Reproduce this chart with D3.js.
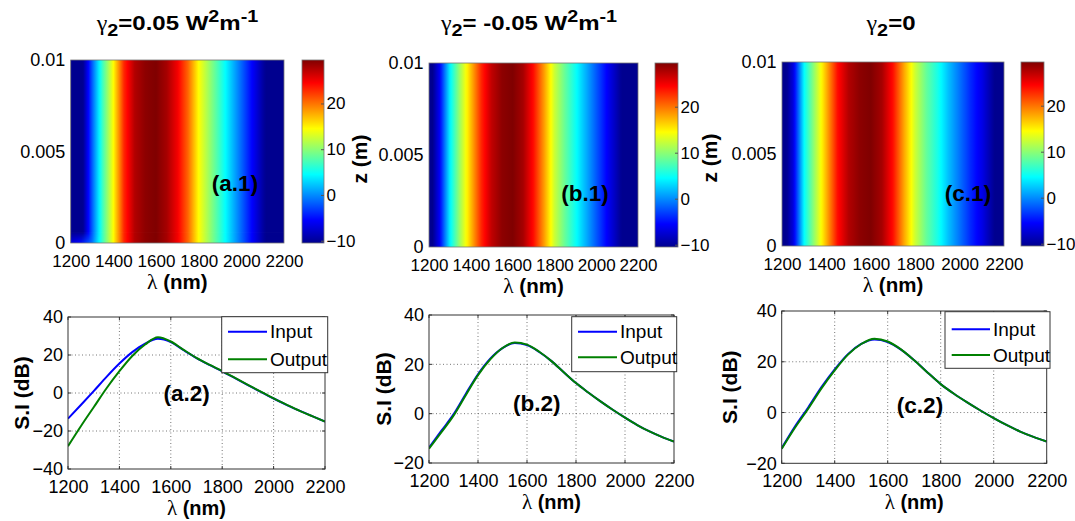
<!DOCTYPE html>
<html><head><meta charset="utf-8">
<script src="https://cdn.jsdelivr.net/npm/d3@7"></script>
<style>
body{margin:0;background:#fff;}
svg text{font-family:"Liberation Sans",Arial,sans-serif;fill:#000;}
</style></head><body>
<svg id="chart" width="1075" height="521"></svg>
<script>
// ---------------- DATA ----------------
const lambda = [1200,1250,1300,1350,1400,1450,1500,1550,1600,1650,1700,1750,1800,1850,1900,1950,2000,2050,2100,2150,2200];
const lambdaTicks = [1200,1400,1600,1800,2000,2200];
const zTicks = [0,0.005,0.01];
const zTickLabels = ['0','0.005','0.01'];
const cbTicks = [-10,0,10,20];
const siTicksA = [-40,-20,0,20,40];
const siTicksBC = [-20,0,20,40];
const seriesNames = ['Input','Output'];

// S.I (dB) curves (bottom row)
const siInputA  = [-13.5,-6.3,1,8.5,15.5,21.5,26,28.5,26.8,22.5,18.4,14.8,11.4,7.8,4.2,0.6,-2.9,-6.2,-9.3,-12.2,-15];
const siOutputA = [-28,-17.5,-7.5,2.5,11.5,19.5,25.5,29.3,27.1,22.7,18.5,14.9,11.5,7.9,4.3,0.7,-2.8,-6.1,-9.3,-12.2,-15];
const siInputB  = [-13.8,-7,-0.3,8,16,22.3,26.6,28.6,27.8,25,21.3,16.8,12.4,8.6,5,1.6,-1.6,-4.6,-7.2,-9.4,-11.3];
const siOutputB = [-14.2,-7.6,-0.8,7.5,15.6,22,26.6,28.9,28,25.1,21.3,16.8,12.4,8.6,5,1.6,-1.6,-4.6,-7.2,-9.4,-11.3];
const siInputC  = [-14,-5.5,2,10,17,23,27,28.8,27.8,24.8,20.6,15.8,11.2,7.4,4,0.8,-2.2,-5,-7.5,-9.6,-11.4];
const siOutputC = [-14.3,-6,1.5,9.5,16.6,22.8,27,29.1,28,24.9,20.6,15.8,11.2,7.4,4,0.8,-2.2,-5,-7.5,-9.6,-11.4];

// Heat-map rows, value per wavelength
const mapA0 = [-7,-5,-1,7,14.5,23,27.5,29,29.5,28,25,20.5,14.5,10.5,6.5,2.5,-1.5,-5.5,-9.5,-13,-16]; // z = 0
const mapA  = [-16,-12,-2,7,14.5,23,27.5,29,29.5,28,25,20.5,14.5,10.5,6.5,2.5,-1.5,-5.5,-9.5,-13,-16];
const mapB  = [-13,-6,4,11,17,23,27,29,29.5,28,24,18.5,12.5,8.5,5,1.5,-2,-5.5,-9,-12.5,-15];
const mapC  = [-13,-7,4.5,11,17.5,24,27.5,29,29.5,28,24,18,12.5,8.5,5.5,2,-1,-4,-6.5,-10,-13];
const zRowsA = [0,0.0006,0.01];
const zRowsBC = [0,0.01];

// ---------------- SETUP ----------------
const svg = d3.select('#chart');
svg.append('rect').attr('width',1075).attr('height',521).attr('fill','#fff');
const defs = svg.append('defs');
const cbDomain = [-10.5,29.5];
const jetT = [0,0.125,0.375,0.625,0.875,1];
const jet = d3.scaleLinear()
  .domain(jetT.map(t=>cbDomain[0]+t*(cbDomain[1]-cbDomain[0])))
  .range(['#00008f','#0000ff','#00ffff','#ffff00','#ff0000','#800000'])
  .clamp(true);
let gid=0;
function hGrad(xs, vals){
  const id='hg'+(gid++);
  const g=defs.append('linearGradient').attr('id',id).attr('x1',0).attr('x2',1).attr('y1',0).attr('y2',0);
  const [a,b]=xs.range();
  for(let i=0;i<lambda.length;i++){
    const sub = i<lambda.length-1 ? 6 : 1;
    for(let k=0;k<sub;k++){
      const t=k/6;
      const l = i<lambda.length-1 ? lambda[i]+(lambda[i+1]-lambda[i])*t : lambda[i];
      const v = i<lambda.length-1 ? vals[i]+(vals[i+1]-vals[i])*t : vals[i];
      g.append('stop').attr('offset',(xs(l)-a)/(b-a)).attr('stop-color',jet(v));
    }
  }
  return id;
}
defs.append('linearGradient').attr('id','fade').attr('x1',0).attr('x2',0).attr('y1',1).attr('y2',0)
  .call(g=>{g.append('stop').attr('offset',0).attr('stop-color','#fff').attr('stop-opacity',1);
            g.append('stop').attr('offset',1).attr('stop-color','#fff').attr('stop-opacity',0);});

const SERIF='"Liberation Serif","DejaVu Serif",serif';
function lambdaLabel(g, x, y, size){
  const t=g.append('text').attr('x',x).attr('y',y).attr('text-anchor','middle').attr('font-size',size);
  t.append('tspan').attr('font-family',SERIF).attr('font-size',size*1.05).text('λ');
  t.append('tspan').attr('font-weight','bold').text(' (nm)');
}
function styleAxis(g,size){
  g.attr('font-family',null).attr('font-size',null);
  g.select('.domain').remove();
  g.selectAll('text').attr('font-size',size).style('font-family','"Liberation Sans",Arial,sans-serif');
}

// ---------------- TOP HEAT MAPS ----------------
const topPanels = [
  {x0:70.7,x1:284,y0:60,y1:243,cb:[302,324],zRows:zRowsA,rows:[mapA0,mapA,mapA],
   title:[['γ','sym'],['2','sub'],['=0.05 W',''],['2','sup'],['m',''],['-1','sup']],titleX:177.5,
   tag:'(a.1)',tagX:235,tagY:183,zLabelX:null},
  {x0:429,x1:638,y0:63,y1:247,cb:[655,678],zRows:zRowsBC,rows:[mapB,mapB],
   title:[['γ','sym'],['2','sub'],['= -0.05 W',''],['2','sup'],['m',''],['-1','sup']],titleX:529,
   tag:'(b.1)',tagX:585,tagY:193,zLabelX:360},
  {x0:782,x1:1004,y0:62,y1:246,cb:[1021,1044],zRows:zRowsBC,rows:[mapC,mapC],
   title:[['γ','sym'],['2','sub'],['=0','']],titleX:891,
   tag:'(c.1)',tagX:968,tagY:193,zLabelX:710}
];

topPanels.forEach((p,pi)=>{
  const g=svg.append('g');
  const xs=d3.scaleLinear().domain([1200,2200]).range([p.x0,p.x1]);
  const zs=d3.scaleLinear().domain([0,0.01]).range([p.y1,p.y0]);
  const ids=p.rows.map(r=>hGrad(xs,r));
  for(let i=0;i<p.zRows.length-1;i++){
    const ya=zs(p.zRows[i+1]), yb=zs(p.zRows[i]);
    g.append('rect').attr('x',p.x0).attr('y',ya).attr('width',p.x1-p.x0).attr('height',yb-ya)
      .attr('fill',`url(#${ids[i+1]})`);
    if(p.rows[i]!==p.rows[i+1]){
      const mid='m'+pi+'_'+i;
      defs.append('mask').attr('id',mid).append('rect')
        .attr('x',p.x0).attr('y',ya).attr('width',p.x1-p.x0).attr('height',yb-ya).attr('fill','url(#fade)');
      g.append('rect').attr('x',p.x0).attr('y',ya).attr('width',p.x1-p.x0).attr('height',yb-ya)
        .attr('fill',`url(#${ids[i]})`).attr('mask',`url(#${mid})`);
    }
  }
  g.append('rect').attr('x',p.x0).attr('y',p.y0).attr('width',p.x1-p.x0).attr('height',p.y1-p.y0)
    .attr('fill','none').attr('stroke','#777').attr('stroke-width',0.8);

  const ax=g.append('g').attr('transform',`translate(0,${p.y1})`)
    .call(d3.axisBottom(xs).tickValues(lambdaTicks).tickSize(0).tickPadding(12).tickFormat(d3.format('d')));
  styleAxis(ax,17);
  const ay=g.append('g').attr('transform',`translate(${p.x0},0)`)
    .call(d3.axisLeft(zs).tickValues(zTicks).tickSize(0).tickPadding(5.5).tickFormat((d,i)=>zTickLabels[i]));
  styleAxis(ay,18);

  lambdaLabel(g,(p.x0+p.x1)/2,p.y1+46,20.5);
  if(p.zLabelX!==null){
    g.append('text').attr('transform',`translate(${p.zLabelX},${(p.y0+p.y1)/2+4}) rotate(-90)`)
      .attr('text-anchor','middle').attr('dy','0.35em').attr('font-size',21).attr('font-weight','bold').text('z (m)');
  }
  g.append('text').attr('x',p.tagX).attr('y',p.tagY).attr('dy','0.35em').attr('text-anchor','middle')
    .attr('font-size',22.5).attr('font-weight','bold').text(p.tag);

  const t=g.append('text').attr('transform',`translate(${p.titleX},30) scale(1.2,1)`)
    .attr('text-anchor','middle').attr('font-size',20).attr('font-weight','bold');
  let shift=0;
  p.title.forEach(([s,k])=>{
    const ts=t.append('tspan').text(s);
    let target=0;
    if(k==='sym'){ts.attr('font-family',SERIF).attr('font-weight','normal').attr('font-size',20);}
    if(k==='sub'){target=6;ts.attr('font-size',16.5);}
    if(k==='sup'){target=-8;ts.attr('font-size',16.5);}
    ts.attr('dy',target-shift); shift=target;
  });

  const cs=d3.scaleLinear().domain(cbDomain).range([p.y1,p.y0]);
  const cid='cb'+pi;
  const cg=defs.append('linearGradient').attr('id',cid).attr('x1',0).attr('x2',0).attr('y1',1).attr('y2',0);
  jetT.forEach(tt=>cg.append('stop').attr('offset',tt).attr('stop-color',jet(cbDomain[0]+tt*(cbDomain[1]-cbDomain[0]))));
  g.append('rect').attr('x',p.cb[0]).attr('y',p.y0).attr('width',p.cb[1]-p.cb[0]).attr('height',p.y1-p.y0)
    .attr('fill',`url(#${cid})`).attr('stroke','#777').attr('stroke-width',0.8);
  const cax=g.append('g').attr('transform',`translate(${p.cb[1]},0)`)
    .call(d3.axisRight(cs).tickValues(cbTicks).tickSizeInner(-3).tickSizeOuter(0).tickPadding(2.5).tickFormat(d3.format('d')));
  styleAxis(cax,17);
  cax.selectAll('line').attr('stroke','#555');
});

// ---------------- BOTTOM LINE PLOTS ----------------
const botPanels = [
  {x0:68,x1:325,y0:317,y1:469,yDomain:[-40,40],yTicks:siTicksA,inp:siInputA,out:siOutputA,
   leg:{x0:221.7,x1:327.7,y0:316.7,y1:372.7,lx:[228,267],iy:331.7,oy:359.3},
   tag:'(a.2)',tagX:186.7,tagY:393.3,yLabelX:22,xLabelOff:46},
  {x0:429,x1:674,y0:315,y1:463,yDomain:[-20,40],yTicks:siTicksBC,inp:siInputB,out:siOutputB,
   leg:{x0:571.7,x1:676.7,y0:316.7,y1:371.7,lx:[578,617],iy:331.7,oy:357.3},
   tag:'(b.2)',tagX:536.7,tagY:403.3,yLabelX:384,xLabelOff:46},
  {x0:781.7,x1:1046.7,y0:311,y1:463.3,yDomain:[-20,40],yTicks:siTicksBC,inp:siInputC,out:siOutputC,
   leg:{x0:945,x1:1050,y0:311.7,y1:368.3,lx:[951.7,990],iy:329.3,oy:355},
   tag:'(c.2)',tagX:920,tagY:405,yLabelX:730,xLabelOff:46}
];
const lineColors=['#0000ff','#008000'];

botPanels.forEach((p,pi)=>{
  const g=svg.append('g');
  const xs=d3.scaleLinear().domain([1200,2200]).range([p.x0,p.x1]);
  const ys=d3.scaleLinear().domain(p.yDomain).range([p.y1,p.y0]);
  g.append('rect').attr('x',p.x0).attr('y',p.y0).attr('width',p.x1-p.x0).attr('height',p.y1-p.y0).attr('fill','#fff');
  g.selectAll('.gx').data(lambdaTicks.slice(1,-1)).join('line')
    .attr('x1',d=>xs(d)).attr('x2',d=>xs(d)).attr('y1',p.y0).attr('y2',p.y1)
    .attr('stroke','#666').attr('stroke-width',0.9).attr('stroke-dasharray','1,2.5');
  g.selectAll('.gy').data(p.yTicks.slice(1,-1)).join('line')
    .attr('y1',d=>ys(d)).attr('y2',d=>ys(d)).attr('x1',p.x0).attr('x2',p.x1)
    .attr('stroke','#666').attr('stroke-width',0.9).attr('stroke-dasharray','1,2.5');
  lambdaTicks.forEach(d=>{
    g.append('line').attr('x1',xs(d)).attr('x2',xs(d)).attr('y1',p.y1).attr('y2',p.y1-3).attr('stroke','#333');
    g.append('line').attr('x1',xs(d)).attr('x2',xs(d)).attr('y1',p.y0).attr('y2',p.y0+3).attr('stroke','#333');
  });
  p.yTicks.forEach(d=>{
    g.append('line').attr('y1',ys(d)).attr('y2',ys(d)).attr('x1',p.x0).attr('x2',p.x0+3).attr('stroke','#333');
    g.append('line').attr('y1',ys(d)).attr('y2',ys(d)).attr('x1',p.x1).attr('x2',p.x1-3).attr('stroke','#333');
  });
  const cid='clip'+pi;
  defs.append('clipPath').attr('id',cid).append('rect').attr('x',p.x0).attr('y',p.y0).attr('width',p.x1-p.x0).attr('height',p.y1-p.y0);
  const line=d3.line().x((d,i)=>xs(lambda[i])).y(d=>ys(d)).curve(d3.curveMonotoneX);
  [p.inp,p.out].forEach((s,si)=>{
    g.append('path').datum(s).attr('d',line).attr('fill','none').attr('stroke',lineColors[si])
      .attr('stroke-width',2).attr('clip-path',`url(#${cid})`);
  });
  g.append('rect').attr('x',p.x0).attr('y',p.y0).attr('width',p.x1-p.x0).attr('height',p.y1-p.y0)
    .attr('fill','none').attr('stroke','#333').attr('stroke-width',1);
  const ax=g.append('g').attr('transform',`translate(0,${p.y1})`)
    .call(d3.axisBottom(xs).tickValues(lambdaTicks).tickSize(0).tickPadding(11).tickFormat(d3.format('d')));
  styleAxis(ax,18);
  const ay=g.append('g').attr('transform',`translate(${p.x0},0)`)
    .call(d3.axisLeft(ys).tickValues(p.yTicks).tickSize(0).tickPadding(5).tickFormat(d3.format('d')));
  styleAxis(ay,18);
  lambdaLabel(g,(p.x0+p.x1)/2,p.y1+p.xLabelOff,20);
  g.append('text').attr('transform',`translate(${p.yLabelX},${(p.y0+p.y1)/2}) rotate(-90)`)
    .attr('text-anchor','middle').attr('dy','0.35em').attr('font-size',21).attr('font-weight','bold').text('S.I (dB)');
  g.append('text').attr('x',p.tagX).attr('y',p.tagY).attr('dy','0.35em').attr('text-anchor','middle')
    .attr('font-size',22.5).attr('font-weight','bold').text(p.tag);
  const L=p.leg;
  g.append('rect').attr('x',L.x0).attr('y',L.y0).attr('width',L.x1-L.x0).attr('height',L.y1-L.y0)
    .attr('fill','#fff').attr('stroke','#333').attr('stroke-width',1);
  [L.iy,L.oy].forEach((yy,si)=>{
    g.append('line').attr('x1',L.lx[0]).attr('x2',L.lx[1]).attr('y1',yy).attr('y2',yy)
      .attr('stroke',lineColors[si]).attr('stroke-width',2);
    g.append('text').attr('x',L.lx[1]+3).attr('y',yy).attr('dy','0.35em').attr('font-size',19).text(seriesNames[si]);
  });
});
</script>
</body></html>
